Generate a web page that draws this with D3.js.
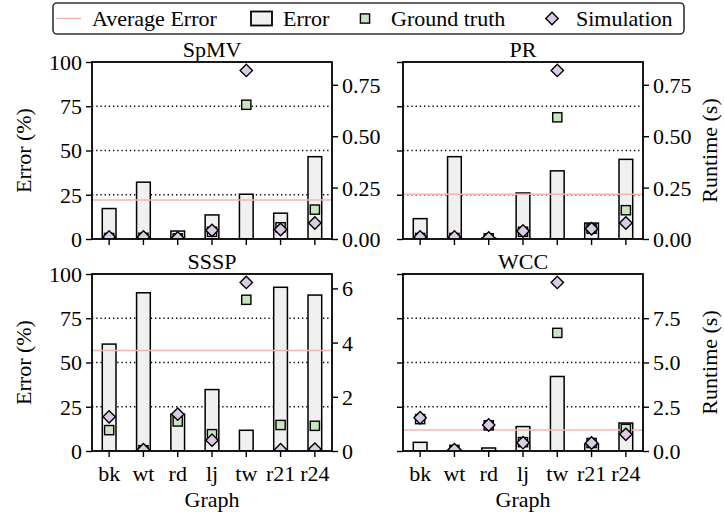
<!DOCTYPE html>
<html>
<head>
<meta charset="utf-8">
<script src="https://cdn.jsdelivr.net/npm/d3@7"></script>
<style>
  body { margin: 0; background: #fff; }
</style>
</head>
<body>
<svg width="724" height="516" font-family="'Liberation Serif', 'Times New Roman', serif"></svg>
<script>
// graphs on the x axis
const graphs = ['bk', 'wt', 'rd', 'lj', 'tw', 'r21', 'r24'];

// error (%) bars, ground truth and simulated runtime (s) per kernel
const spmvError = [17.2, 32.1, 4.5, 13.6, 25.3, 14.6, 46.5];
const spmvTruth = [0.005, 0.006, 0.003, 0.035, 0.653, 0.057, 0.143];
const spmvSim = [0.01, 0.01, 0.005, 0.042, 0.820, 0.046, 0.078];

const prError = [11.5, 46.5, 0.5, 26.0, 38.5, 9.0, 45.0];
const prTruth = [0.005, 0.005, 0.003, 0.035, 0.592, 0.05, 0.14];
const prSim = [0.01, 0.01, 0.005, 0.039, 0.820, 0.05, 0.078];

const ssspError = [60.4, 89.4, 20.8, 34.7, 11.7, 92.5, 88.1];
const ssspTruth = [0.77, 0.03, 1.09, 0.62, 5.58, 0.96, 0.93];
const ssspSim = [1.26, 0.05, 1.36, 0.40, 6.22, 0.05, 0.07];

const wccError = [4.9, 0.4, 1.7, 13.8, 42.1, 4.0, 15.8];
const wccTruth = [1.8, 0.06, 1.45, 0.5, 6.67, 0.45, 1.25];
const wccSim = [1.88, 0.08, 1.47, 0.47, 9.52, 0.45, 0.94];

// tick labels
const errorTicks = [0, 25, 50, 75, 100];
const gridTicks = [25, 50, 75];
const spmvTicks = [0, 0.25, 0.5, 0.75];
const prTicks = [0, 0.25, 0.5, 0.75];
const ssspTicks = [0, 2, 4, 6];
const wccTicks = [0, 2.5, 5, 7.5];

const legendLabels = ['Average Error', 'Error', 'Ground truth', 'Simulation'];

const FONT = "'Liberation Serif', 'Times New Roman', serif";
const FONT_SIZE = '22px';
const AVG_COLOR = '#f7b4b4';
const BAR_FILL = '#f0f0f0';
const TRUTH_FILL = '#c9e6c1';
const SIM_FILL = '#dccbe4';
const SQ = 9.2; // square side
const DR = 6.2; // diamond half diagonal

function main() {
    const svg = d3.select('svg');

    const panels = [
        { title: 'SpMV', err: spmvError, truth: spmvTruth, sim: spmvSim, ticks: spmvTicks, fmt: '.2f', x: 92, y: 62, col: 0, row: 0 },
        { title: 'PR', err: prError, truth: prTruth, sim: prSim, ticks: prTicks, fmt: '.2f', x: 403, y: 62, col: 1, row: 0 },
        { title: 'SSSP', err: ssspError, truth: ssspTruth, sim: ssspSim, ticks: ssspTicks, fmt: 'd', x: 92, y: 274, col: 0, row: 1 },
        { title: 'WCC', err: wccError, truth: wccTruth, sim: wccSim, ticks: wccTicks, fmt: '.1f', x: 403, y: 274, col: 1, row: 1 }
    ];
    const width = 240;
    const height = 177;

    // helper for every text label
    function label(sel, str) {
        return sel.append('text')
            .attr('font-family', FONT).attr('font-size', FONT_SIZE).attr('fill', '#000')
            .text(str);
    }

    function diamond(x, y, r) {
        return 'M' + x + ',' + (y - r) + 'L' + (x + r) + ',' + y +
            'L' + x + ',' + (y + r) + 'L' + (x - r) + ',' + y + 'Z';
    }

    panels.forEach(function (p, k) {
        const g = svg.append('g').attr('transform', 'translate(' + p.x + ',' + p.y + ')');

        const xScale = d3.scaleBand().domain(graphs).range([0, width])
            .paddingInner(0.6).paddingOuter(0.3);
        const yErr = d3.scaleLinear().domain([0, 100]).range([height, 0]);
        const yRun = d3.scaleLinear()
            .domain([0, d3.max(p.truth.concat(p.sim)) * 1.05]).range([height, 0]);

        g.append('clipPath').attr('id', 'clip' + k)
            .append('rect').attr('width', width).attr('height', height);
        const plot = g.append('g').attr('clip-path', 'url(#clip' + k + ')');

        // dotted grid from the error axis
        plot.selectAll('.grid').data(gridTicks).enter().append('line')
            .attr('x1', 0).attr('x2', width)
            .attr('y1', function (d) { return yErr(d); })
            .attr('y2', function (d) { return yErr(d); })
            .attr('stroke', '#000').attr('stroke-width', 1.3)
            .attr('stroke-dasharray', '1.3,2.9');

        // error bars
        plot.selectAll('.bar').data(p.err).enter().append('rect')
            .attr('x', function (d, i) { return xScale(graphs[i]); })
            .attr('y', function (d) { return yErr(d); })
            .attr('width', xScale.bandwidth())
            .attr('height', function (d) { return height - yErr(d); })
            .attr('fill', BAR_FILL).attr('stroke', '#000').attr('stroke-width', 1.5);

        // average error
        const avg = d3.mean(p.err);
        plot.append('line')
            .attr('x1', 0).attr('x2', width)
            .attr('y1', yErr(avg)).attr('y2', yErr(avg))
            .attr('stroke', AVG_COLOR).attr('stroke-width', 1.5);

        const cx = function (i) { return xScale(graphs[i]) + xScale.bandwidth() / 2; };

        // ground truth squares
        plot.selectAll('.truth').data(p.truth).enter().append('rect')
            .attr('x', function (d, i) { return cx(i) - SQ / 2; })
            .attr('y', function (d) { return yRun(d) - SQ / 2; })
            .attr('width', SQ).attr('height', SQ)
            .attr('fill', TRUTH_FILL).attr('stroke', '#000').attr('stroke-width', 1.4);

        // simulation diamonds
        plot.selectAll('.sim').data(p.sim).enter().append('path')
            .attr('d', function (d, i) { return diamond(cx(i), yRun(d), DR); })
            .attr('fill', SIM_FILL).attr('stroke', '#000').attr('stroke-width', 1.4);

        // axes
        const left = d3.axisLeft(yErr).tickValues(errorTicks).tickSize(6).tickPadding(4);
        if (p.col === 1) left.tickFormat('');
        const gl = g.append('g').call(left);

        const right = d3.axisRight(yRun).tickValues(p.ticks).tickSize(6).tickPadding(4)
            .tickFormat(d3.format(p.fmt));
        const gr = g.append('g').attr('transform', 'translate(' + width + ',0)').call(right);

        const bottom = d3.axisBottom(xScale).tickSize(6).tickPadding(8);
        if (p.row === 0) bottom.tickFormat('');
        const gb = g.append('g').attr('transform', 'translate(0,' + height + ')').call(bottom);

        [gl, gr, gb].forEach(function (a) {
            a.attr('font-family', FONT).attr('font-size', 22);
            a.selectAll('.domain').remove();
            a.selectAll('.tick line').attr('stroke', '#000').attr('stroke-width', 1.4);
            a.selectAll('.tick text').attr('font-family', FONT)
                .attr('font-size', FONT_SIZE).attr('fill', '#000');
        });
        gl.selectAll('.tick text').attr('dy', '0.34em');
        gr.selectAll('.tick text').attr('dy', '0.34em');

        // frame
        g.append('rect').attr('width', width).attr('height', height)
            .attr('fill', 'none').attr('stroke', '#000').attr('stroke-width', 1.8);

        label(g, p.title)
            .attr('x', width / 2).attr('y', -5)
            .attr('text-anchor', 'middle');

        if (p.col === 0) {
            label(g, 'Error (%)')
                .attr('transform', 'translate(' + (-69) + ',' + height / 2 + ') rotate(-90)')
                .attr('text-anchor', 'middle').attr('dy', '0.35em');
        } else {
            label(g, 'Runtime (s)')
                .attr('transform', 'translate(' + (width + 67) + ',' + height / 2 + ') rotate(-90)')
                .attr('text-anchor', 'middle').attr('dy', '0.3em');
        }
        if (p.row === 1) {
            label(g, 'Graph')
                .attr('x', width / 2).attr('y', height + 56)
                .attr('text-anchor', 'middle');
        }
    });

    /** legend across the top */
    const lg = svg.append('g');
    lg.append('rect')
        .attr('x', 53).attr('y', 3).attr('width', 631).attr('height', 31).attr('rx', 4)
        .attr('fill', '#fff').attr('stroke', '#333').attr('stroke-width', 1.6);
    const ly = 18.5;
    lg.append('line').attr('x1', 56).attr('x2', 81).attr('y1', ly).attr('y2', ly)
        .attr('stroke', AVG_COLOR).attr('stroke-width', 1.5);
    lg.append('rect').attr('x', 251).attr('y', ly - 7).attr('width', 21).attr('height', 14)
        .attr('fill', BAR_FILL).attr('stroke', '#000').attr('stroke-width', 1.8);
    lg.append('rect').attr('x', 365 - SQ / 2).attr('y', ly - SQ / 2).attr('width', SQ).attr('height', SQ)
        .attr('fill', TRUTH_FILL).attr('stroke', '#000').attr('stroke-width', 1.4);
    lg.append('path')
        .attr('d', diamond(552, ly, DR))
        .attr('fill', SIM_FILL).attr('stroke', '#000').attr('stroke-width', 1.4);
    const textX = [92, 283, 391, 576];
    legendLabels.forEach(function (d, i) {
        label(lg, d).attr('x', textX[i]).attr('y', ly).attr('dy', '0.35em');
    });
}
main();
</script>
</body>
</html>
